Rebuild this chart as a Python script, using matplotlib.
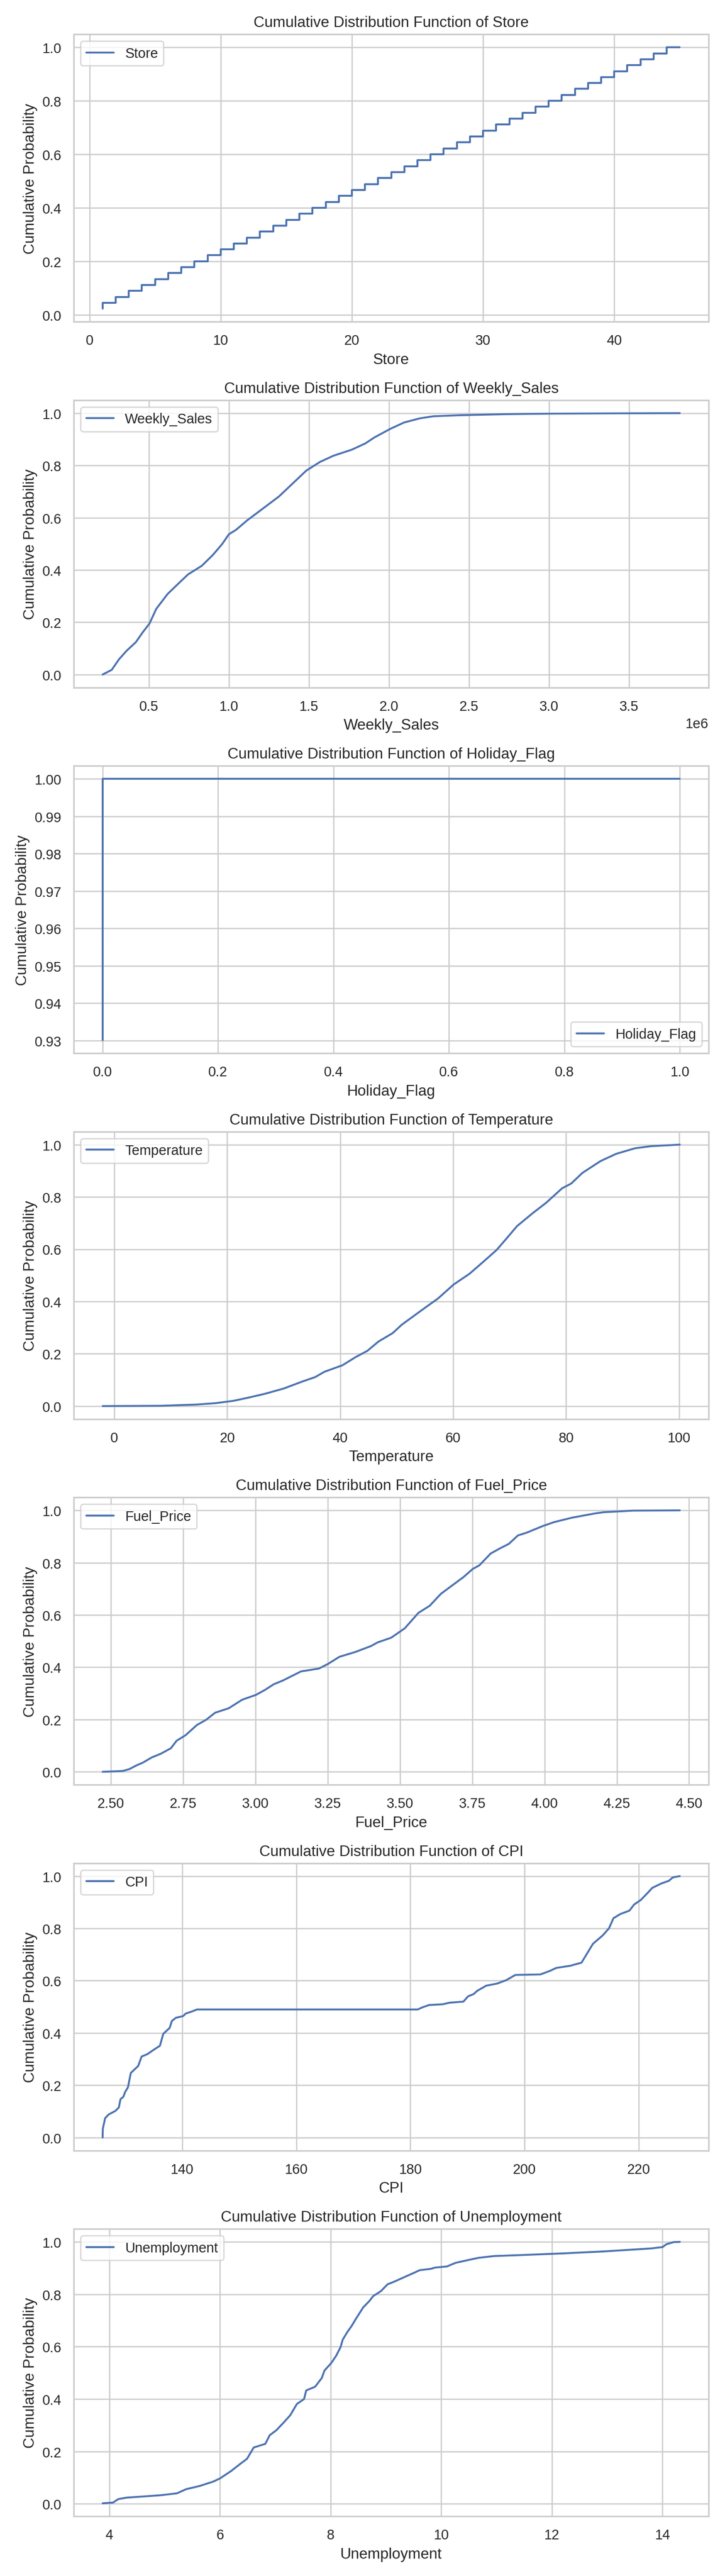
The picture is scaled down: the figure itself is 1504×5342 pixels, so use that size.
import numpy as np
import matplotlib
matplotlib.use('Agg')
import matplotlib.pyplot as plt
import seaborn as sns

sns.set_theme(style='whitegrid')
plt.rcParams['font.family'] = ['Liberation Sans', 'DejaVu Sans']

# Store: 45 tiendas, 143 semanas cada una
store_ids = [1, 2, 3, 4, 5, 6, 7, 8, 9, 10, 11, 12, 13, 14, 15, 16, 17, 18, 19, 20, 21, 22, 23,
             24, 25, 26, 27, 28, 29, 30, 31, 32, 33, 34, 35, 36, 37, 38, 39, 40, 41, 42, 43, 44, 45]
store_counts = [143, 143, 143, 143, 143, 143, 143, 143, 143, 143, 143, 143, 143, 143, 143,
                143, 143, 143, 143, 143, 143, 143, 143, 143, 143, 143, 143, 143, 143, 143,
                143, 143, 143, 143, 143, 143, 143, 143, 143, 143, 143, 143, 143, 143, 143]

# Holiday_Flag
holiday_vals = [0, 1]
holiday_counts = [5985, 450]

# Weekly_Sales
sales_x = [210000, 267000, 312000, 360000, 418000, 460000, 503000, 545000, 616000, 687000,
           744000, 830000, 900000, 957000, 1000000, 1043000, 1114000, 1199000, 1312000, 1426000,
           1483000, 1568000, 1653000, 1767000, 1852000, 1909000, 2009000, 2094000, 2193000,
           2278000, 2449000, 2733000, 3017000, 3818000]
sales_y = [0.0, 0.018, 0.058, 0.091, 0.124, 0.161, 0.195, 0.251, 0.308, 0.350,
           0.383, 0.416, 0.458, 0.499, 0.537, 0.553, 0.590, 0.629, 0.681, 0.747,
           0.780, 0.813, 0.837, 0.860, 0.884, 0.907, 0.940, 0.964, 0.980,
           0.988, 0.992, 0.996, 0.998, 1.0]

# Temperature
temp_x = [-2.06, 8.3, 14.7, 17.9, 21.1, 23.5, 26.7, 30.0, 33.2, 35.6, 37.2, 40.4, 42.8, 44.8,
          46.8, 49.3, 50.9, 54.9, 57.3, 60.1, 62.9, 65.3, 67.7, 69.7, 71.3, 74.1, 76.5, 79.3,
          80.9, 82.9, 86.1, 88.9, 92.2, 95.0, 100.14]
temp_y = [0.0, 0.001, 0.006, 0.011, 0.020, 0.031, 0.047, 0.067, 0.093, 0.111, 0.131, 0.156,
          0.188, 0.211, 0.247, 0.279, 0.311, 0.374, 0.411, 0.465, 0.506, 0.551, 0.597, 0.647,
          0.688, 0.738, 0.778, 0.833, 0.851, 0.892, 0.937, 0.965, 0.986, 0.994, 1.0]

# Fuel_Price
fuel_x = [2.472, 2.54, 2.564, 2.588, 2.611, 2.642, 2.673, 2.708, 2.728, 2.759, 2.798, 2.83,
          2.861, 2.908, 2.955, 3.002, 3.033, 3.064, 3.095, 3.158, 3.22, 3.252, 3.291, 3.345,
          3.40, 3.423, 3.47, 3.517, 3.564, 3.603, 3.642, 3.681, 3.72, 3.752, 3.775, 3.814,
          3.845, 3.877, 3.908, 3.939, 3.994, 4.033, 4.095, 4.173, 4.205, 4.306, 4.468]
fuel_y = [0.0, 0.003, 0.010, 0.024, 0.035, 0.055, 0.069, 0.090, 0.119, 0.140, 0.179, 0.199,
          0.226, 0.243, 0.276, 0.294, 0.313, 0.335, 0.349, 0.384, 0.395, 0.413, 0.440, 0.458,
          0.481, 0.495, 0.513, 0.549, 0.608, 0.635, 0.681, 0.713, 0.745, 0.776, 0.790, 0.835,
          0.854, 0.872, 0.904, 0.915, 0.940, 0.955, 0.972, 0.988, 0.993, 0.999, 1.0]

# CPI
cpi_x = [126.06, 126.1, 126.5, 127.1, 128.3, 128.9, 129.2, 129.7, 130.0, 130.5, 131.0, 132.3,
         132.9, 133.9, 135.1, 136.1, 136.7, 137.8, 138.2, 138.9, 140.2, 140.6, 141.8, 142.6,
         181.3, 182.1, 183.3, 185.7, 186.9, 189.3, 190.1, 191.1, 191.7, 193.3, 195.2, 196.8,
         198.4, 202.8, 204.4, 205.6, 208.0, 210.0, 211.0, 212.0, 213.7, 214.8, 215.6, 216.8,
         218.4, 219.2, 220.4, 221.6, 222.4, 224.0, 225.3, 226.0, 227.23]
cpi_y = [0.0, 0.034, 0.074, 0.088, 0.102, 0.115, 0.147, 0.156, 0.174, 0.192, 0.247, 0.274,
         0.310, 0.319, 0.337, 0.351, 0.397, 0.419, 0.446, 0.458, 0.465, 0.474, 0.483, 0.490,
         0.490, 0.498, 0.507, 0.510, 0.516, 0.520, 0.540, 0.549, 0.561, 0.581, 0.589, 0.602,
         0.622, 0.624, 0.637, 0.649, 0.657, 0.669, 0.705, 0.741, 0.773, 0.800, 0.839, 0.855,
         0.868, 0.891, 0.909, 0.936, 0.955, 0.972, 0.982, 0.995, 1.0]

# Unemployment
unemp_x = [3.879, 4.07, 4.16, 4.32, 4.61, 4.93, 5.22, 5.39, 5.63, 5.88, 6.0, 6.2, 6.37, 6.49,
           6.61, 6.82, 6.9, 7.02, 7.15, 7.27, 7.39, 7.52, 7.56, 7.72, 7.84, 7.89, 8.01, 8.1,
           8.18, 8.22, 8.3, 8.38, 8.46, 8.59, 8.7, 8.77, 8.91, 9.03, 9.16, 9.36, 9.52, 9.61,
           9.81, 9.89, 10.1, 10.26, 10.43, 10.67, 10.96, 11.61, 12.19, 12.89, 13.5, 13.79,
           14.0, 14.07, 14.2, 14.313]
unemp_y = [0.002, 0.005, 0.018, 0.024, 0.028, 0.033, 0.040, 0.056, 0.068, 0.085, 0.097, 0.125,
           0.153, 0.172, 0.215, 0.229, 0.262, 0.281, 0.310, 0.338, 0.381, 0.400, 0.433, 0.447,
           0.480, 0.509, 0.537, 0.565, 0.598, 0.627, 0.655, 0.679, 0.707, 0.750, 0.774, 0.793,
           0.812, 0.838, 0.849, 0.868, 0.883, 0.892, 0.897, 0.902, 0.906, 0.920, 0.928, 0.939,
           0.946, 0.951, 0.956, 0.963, 0.971, 0.975, 0.980, 0.991, 0.999, 1.0]

#CDF de las variables discretas
store_cdf = np.cumsum(store_counts) / np.sum(store_counts)
holiday_cdf = np.cumsum(holiday_counts) / np.sum(holiday_counts)

columns = ['Store', 'Weekly_Sales', 'Holiday_Flag', 'Temperature', 'Fuel_Price', 'CPI', 'Unemployment']
series = {
    'Store': (store_ids, store_cdf, 'step'),
    'Weekly_Sales': (sales_x, sales_y, 'line'),
    'Holiday_Flag': (holiday_vals, holiday_cdf, 'step'),
    'Temperature': (temp_x, temp_y, 'line'),
    'Fuel_Price': (fuel_x, fuel_y, 'line'),
    'CPI': (cpi_x, cpi_y, 'line'),
    'Unemployment': (unemp_x, unemp_y, 'line'),
}

fig, axes = plt.subplots(len(columns), 1, figsize=(8.0, 28.42))

for ax, col in zip(axes, columns):
    x, y, kind = series[col]
    if kind == 'step':
        ax.step(x, y, where='pre', label=col)
    else:
        ax.plot(x, y, label=col)
    ax.set_title('Cumulative Distribution Function of ' + col)
    ax.set_xlabel(col)
    ax.set_ylabel('Cumulative Probability')
    if col == 'Holiday_Flag':
        ax.legend(loc='lower right')
    else:
        ax.legend(loc='upper left')

plt.tight_layout()
plt.savefig('out.png', dpi=188)
